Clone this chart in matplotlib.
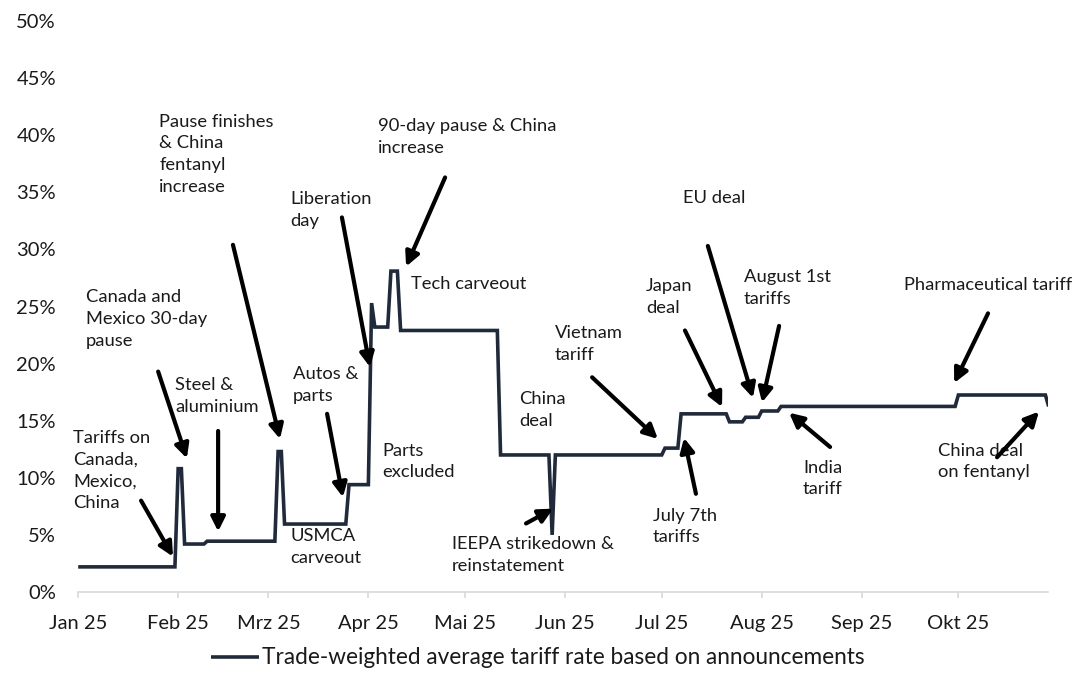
import matplotlib
matplotlib.use("Agg")
import matplotlib.pyplot as plt
import matplotlib.dates as mdates

# Trade-weighted average tariff rate (%), breakpoints of the step series
dates = [
    "2025-01-01", "2025-01-31", "2025-02-01", "2025-02-02", "2025-02-03",
    "2025-02-09", "2025-02-10", "2025-03-03", "2025-03-04", "2025-03-05",
    "2025-03-06", "2025-03-25", "2025-03-26", "2025-04-01", "2025-04-02",
    "2025-04-03", "2025-04-07", "2025-04-08", "2025-04-10", "2025-04-11",
    "2025-05-11", "2025-05-12", "2025-05-27", "2025-05-28", "2025-05-29",
    "2025-07-01", "2025-07-02", "2025-07-06", "2025-07-07", "2025-07-21",
    "2025-07-22", "2025-07-26", "2025-07-27", "2025-07-31", "2025-08-01",
    "2025-08-06", "2025-08-07", "2025-09-30", "2025-10-01", "2025-10-28",
    "2025-10-29",
]
rates = [
    2.2, 2.2, 10.8, 10.8, 4.2,
    4.2, 4.45, 4.45, 12.3, 12.3,
    5.95, 5.95, 9.4, 9.4, 25.3,
    23.2, 23.2, 28.1, 28.1, 22.9,
    22.9, 12.0, 12.0, 5.0, 12.0,
    12.0, 12.6, 12.6, 15.6, 15.6,
    14.9, 14.9, 15.3, 15.3, 15.85,
    15.85, 16.25, 16.25, 17.25, 17.25,
    16.25,
]

month_ticks = ["2025-01-01", "2025-02-01", "2025-03-01", "2025-04-01", "2025-05-01",
               "2025-06-01", "2025-07-01", "2025-08-01", "2025-09-01", "2025-10-01"]
month_labels = ["Jan 25", "Feb 25", "Mrz 25", "Apr 25", "Mai 25",
                "Jun 25", "Jul 25", "Aug 25", "Sep 25", "Okt 25"]
y_ticks = [0, 5, 10, 15, 20, 25, 30, 35, 40, 45, 50]

series_label = "Trade-weighted average tariff rate based on announcements"

# Event notes: text, text anchor (days since 1 Jan, %), arrow tail, arrow head
events = [
    ("Tariffs on\nCanada,\nMexico,\nChina", (-1.6, 13.4), (19.5, 8.0), (29.4, 3.1)),
    ("Canada and\nMexico 30-day\npause", (2.4, 25.7), (24.8, 19.3), (33.7, 11.7)),
    ("Steel &\naluminium", (30.0, 18.0), (43.4, 14.1), (43.4, 5.3)),
    ("Pause finishes\n& China\nfentanyl\nincrease", (25.1, 41.1), (48.0, 30.4), (62.6, 13.4)),
    ("Liberation\nday", (65.7, 34.3), (81.8, 32.8), (90.5, 19.7)),
    ("Autos &\nparts", (66.6, 19.0), (77.2, 15.6), (82.1, 8.3)),
    ("USMCA\ncarveout", (65.7, 4.8), None, None),
    ("Parts\nexcluded", (94.2, 12.3), None, None),
    ("90-day pause & China\nincrease", (93.0, 40.7), (113.8, 36.3), (101.7, 28.5)),
    ("Tech carveout", (103.2, 26.9), None, None),
    ("China\ndeal", (136.7, 16.8), None, None),
    ("IEEPA strikedown &\nreinstatement", (115.9, 4.1), (138.9, 6.0), (147.3, 7.3)),
    ("Vietnam\ntariff", (147.9, 22.6), (159.4, 18.8), (179.8, 13.4)),
    ("Japan\ndeal", (176.1, 26.7), (188.2, 22.9), (199.7, 16.2)),
    ("July 7th\ntariffs", (178.3, 6.6), (191.6, 8.6), (187.9, 13.5)),
    ("EU deal", (187.6, 34.4), (195.3, 30.3), (209.3, 17.0)),
    ("August 1st\ntariffs", (206.5, 27.5), (217.4, 23.3), (212.1, 16.6)),
    ("India\ntariff", (224.8, 10.8), (233.2, 12.7), (220.5, 15.7)),
    ("Pharmaceutical tariff", (256.0, 26.8), (282.2, 24.4), (271.7, 18.3)),
    ("China deal\non fentanyl", (266.7, 12.3), (285.0, 11.8), (298.0, 15.8)),
]

FONT = ["Lato", "DejaVu Sans"]
TEXT_COLOR = "#1a1a1a"
LINE_COLOR = "#1f2b3c"
AXIS_GRAY = "#d9d9d9"

plt.rcParams["font.family"] = FONT
plt.rcParams["font.size"] = 13

fig = plt.figure(figsize=(10.76, 6.88), dpi=100)
W, H = 1076, 688
ax = fig.add_axes([78.2 / W, (H - 592) / H, (1048 - 78.2) / W, (592 - 21) / H])

x = mdates.datestr2num(dates)
ax.plot(x, rates, color=LINE_COLOR, lw=2.6, solid_joinstyle="miter",
        solid_capstyle="butt", label=series_label)

start = mdates.datestr2num("2025-01-01")
ax.set_xlim(start, start + 300.8)
ax.set_ylim(0, 50)

ax.set_xticks(mdates.datestr2num(month_ticks))
ax.set_xticklabels(month_labels)
ax.set_yticks(y_ticks)
ax.set_yticklabels([f"{v}%" for v in y_ticks])

for side in ("top", "right", "left"):
    ax.spines[side].set_visible(False)
ax.spines["bottom"].set_color(AXIS_GRAY)
ax.spines["bottom"].set_linewidth(1.2)
ax.tick_params(axis="x", direction="out", length=4.5, width=1.2, color=AXIS_GRAY,
               pad=12, labelsize=14.5, labelcolor=TEXT_COLOR)
ax.tick_params(axis="y", length=0, pad=16, labelsize=14.5, labelcolor=TEXT_COLOR)

for text, pos, tail, head in events:
    ax.annotate(text, xy=(start + pos[0], pos[1]), xytext=(0, 6.5),
                textcoords="offset points", ha="left", va="top",
                fontsize=13.2, color=TEXT_COLOR, linespacing=1.45,
                annotation_clip=False)
    if tail is not None:
        ax.annotate("", xy=(start + head[0], head[1]),
                    xytext=(start + tail[0], tail[1]),
                    arrowprops=dict(arrowstyle="-|>", color="black", lw=3,
                                    mutation_scale=21, shrinkA=0, shrinkB=0),
                    annotation_clip=False)

fig.legend(loc="center", bbox_to_anchor=(0.5, 1 - 658 / H), frameon=False,
           handlelength=2.1, handletextpad=0.15, fontsize=16.3,
           labelcolor=TEXT_COLOR)

fig.savefig("out.png", dpi=100, facecolor="white")
